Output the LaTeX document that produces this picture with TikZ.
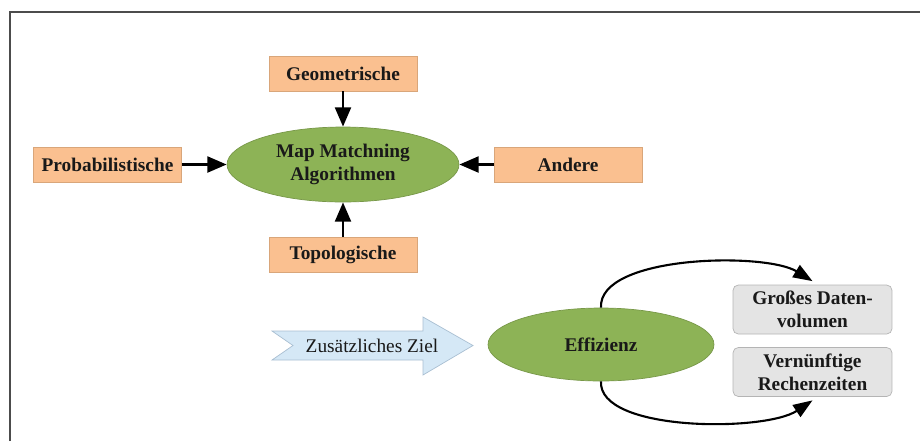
\documentclass[tikz,border=0pt]{standalone}
\usepackage{fontspec}
\setmainfont{Liberation Serif}
\usetikzlibrary{arrows.meta,shapes.geometric}
\definecolor{boxorange}{HTML}{FAC090}
\definecolor{lineorange}{HTML}{D9A67A}
\definecolor{ellgreen}{HTML}{8DB356}
\definecolor{boxgray}{HTML}{E4E4E4}
\definecolor{linegray}{HTML}{B4B4B4}
\definecolor{arrowblue}{HTML}{D5E8F6}
\definecolor{lineblue}{HTML}{A9BFD2}
\tikzset{
  txt/.style={font=\fontsize{11}{13}\selectfont, text=black!90},
  kind/.style={txt, draw=lineorange, fill=boxorange, font=\fontsize{11}{13}\selectfont\bfseries,
    minimum width=2.96cm, minimum height=0.7cm, inner sep=0pt},
  core/.style={txt, ellipse, fill=ellgreen, draw=ellgreen!85!black, font=\fontsize{11}{13}\selectfont\bfseries,
    inner sep=0pt, align=center},
  goal/.style={txt, draw=linegray, fill=boxgray, rounded corners=3pt, align=center,
    font=\fontsize{11}{13}\selectfont\bfseries, minimum width=3.18cm, minimum height=0.98cm, inner sep=0pt},
  feed/.style={line width=1.6pt, -{Triangle[length=11pt,width=9pt]}},
  loopline/.style={line width=1.2pt, -{Triangle[length=11pt,width=8pt]}}
}
\begin{document}
\begin{tikzpicture}[x=0.02cm,y=-0.02cm]
\useasboundingbox (0,0) rectangle (920,441);
%frame
\draw[line width=1.1pt, black!70] (10,441)--(10,12)--(920,12);
%map matching part
\node[core, minimum width=4.64cm, minimum height=1.5cm] (mm) at (343,164.5) {Map Matchning\\Algorithmen};
\node[kind] (geo) at (343,73.5) {Geometrische};
\node[kind] (prob) at (107.5,164.5) {Probabilistische};
\node[kind] (andere) at (568,164.5) {Andere};
\node[kind] (topo) at (343,254.5) {Topologische};
\draw[feed] (geo) -- (mm);
\draw[feed] (prob) -- (mm);
\draw[feed] (andere) -- (mm);
\draw[feed] (topo) -- (mm);
%additional goal
\draw[draw=lineblue, fill=arrowblue] (272,331)--(423,331)--(423,317)--(473,345.5)--(423,375)--(423,360)--(272,360)--(293,345.5)--cycle;
\node[txt] (ziel) at (372,345.5) {Zusätzliches Ziel};
\node[core, minimum width=4.52cm, minimum height=1.46cm] (eff) at (601,344.5) {Effizienz};
\node[goal] (daten) at (812.5,309.5) {Großes Daten-\\volumen};
\node[goal] (zeit) at (812.5,372) {Vernünftige\\Rechenzeiten};
\draw[loopline] (eff.north) .. controls (598,255) and (765,252) .. ([yshift=2pt]daten.north);
\draw[loopline] (eff.south) .. controls (598,432) and (765,432) .. ([yshift=-2pt]zeit.south);
\end{tikzpicture}
\end{document}
